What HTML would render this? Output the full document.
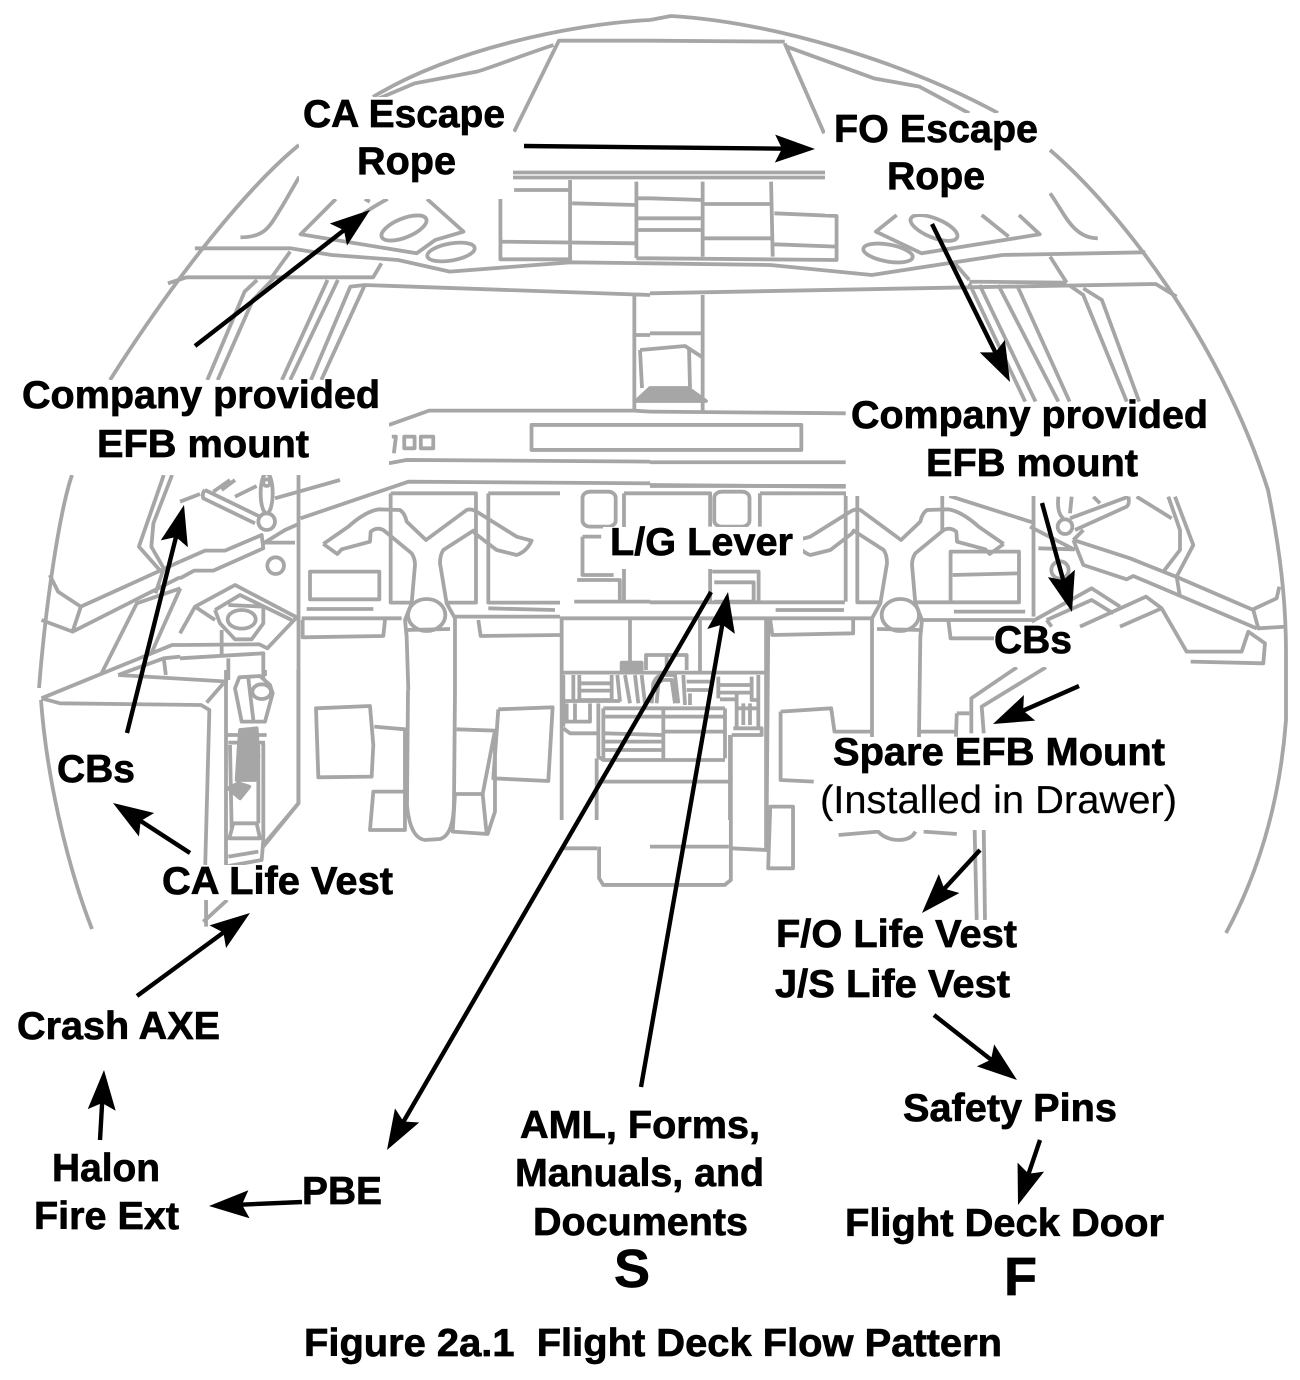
<!DOCTYPE html>
<html><head><meta charset="utf-8"><style>
html,body{margin:0;padding:0;background:#fff}
svg{display:block}
.l path,.l ellipse,.l circle,.l rect{fill:none;stroke:#a6a6a6;stroke-width:3.8;vector-effect:non-scaling-stroke;stroke-linejoin:round}
.l .f{fill:#a6a6a6}
.a line{stroke:#000;stroke-width:4.4;marker-end:url(#h)}
text{font-family:"Liberation Sans",Arial,sans-serif;font-weight:700;font-size:39px;fill:#000;stroke:#000;stroke-width:.7}
text.r{font-weight:400;stroke-width:.2}
</style></head><body>
<svg width="1300" height="1380" viewBox="0 0 1300 1380" xmlns="http://www.w3.org/2000/svg">
<defs><marker id="h" markerUnits="userSpaceOnUse" markerWidth="50" markerHeight="36" refX="40" refY="16" orient="auto"><path d="M0,2 L40,16 L0,30 L7,16Z" fill="#000"/></marker></defs>
<g class="l">
<path d="M650,20 C570,24 450,50 373,97 M299,145 C250,185 180,270 110,380 M72,475 C60,510 46,600 39,688 M41,700 C46,770 65,860 92,929"/>
<path d="M650,20 L671,16 C770,22 900,60 998,113 M1050,150 C1120,210 1220,340 1268,490 C1280,550 1286,600 1286,653 L1286,720 C1280,800 1260,870 1226,933"/>
</g>
<g class="l" transform="scale(.4146,.3333)">
<path d="M1240,395 L1348,122 L1568,122 M1335,135 C1250,170 1180,205 1150,215 L1000,250 L905,300"/>
<path d="M722,530 L680,620 C650,680 640,712 580,712 M810,597 L725,703 L1005,760 L1050,720 L1118,695 L1030,597 M880,597 L892,605 M935,597 Q900,620 878,640"/>
<path d="M470,745 L700,745 L800,765 L960,780 L1085,815 L1375,787 L1568,790 M405,850 L450,832 L900,832 L920,790 M700,755 L655,832"/>
<path d="M620,840 L590,875 L500,1140 M660,835 L610,900 L525,1140 M790,840 L680,1140 M815,840 L700,1140 M880,855 L845,860 L750,1140 M880,855 L775,1140 M878,855 L1568,885"/>
<path d="M1240,570 L1375,570 M1375,540 L1375,790 M1207,597 L1207,778 L1375,778 M1207,725 L1535,730 M1380,610 L1535,615 M1535,545 L1535,775 M1535,595 L1568,595 M1535,655 L1568,655 M1535,690 L1568,690 M1535,775 L1568,775"/>
<path d="M938,1275 L1035,1232 L1530,1232 L1568,1235 M938,1390 L980,1380 L1568,1385 M1568,1275 L1282,1275 L1282,1350 L1568,1350 M1530,885 L1530,1232 M1530,1005 L1568,1005"/>
<path d="M945,1310 L955,1310 L950,1360 M975,1310 L1000,1310 L1000,1345 L975,1345Z M1015,1310 L1045,1310 L1045,1345 L1015,1345Z"/>
</g>
<g class="l" transform="translate(650,0) scale(.4146,.3333)">
<path d="M0,122 L325,125 M330,140 L540,235 L650,260 L770,340 M325,130 L420,400"/>
<path d="M0,595 L127,600 M0,655 L127,655 M0,690 L127,690 M127,545 L127,770 M130,612 L295,612 M130,715 L295,715 M292,545 L296,770 M300,640 L450,648 L450,780 L0,775 M300,733 L450,740"/>
<path d="M0,790 L290,795 L535,825 L850,765 L1195,757 M595,645 L545,695 L655,760 L940,703 L890,645 M800,645 L865,710 M965,580 C1000,640 1020,715 1080,715"/>
<path d="M0,880 L770,862 L1220,852 L1270,890 M770,845 L1005,848 M965,770 L1005,848 M1010,855 L1045,885 L1150,1205 M1045,865 L1090,900 L1180,1205 M770,850 L905,1205 M795,855 L930,1205 M840,855 L985,1205 M885,855 L1012,1205 M735,790 L770,840"/>
<path d="M127,885 L127,1235 M0,1000 L127,1000 M0,1235 L472,1240 M0,1275 L365,1275 L365,1350 L0,1350 M0,1387 L472,1387 M0,1458 L472,1458"/>
</g>
<g class="l">
<path d="M513,172.500 L825,172.500 M513,177.500 L825,177.500"/>
<ellipse cx="404" cy="228" rx="24" ry="9.500" transform="rotate(-22 404 228)"/>
<ellipse cx="451" cy="252" rx="24" ry="8.500" transform="rotate(-10 451 252)"/>
<ellipse cx="934" cy="228" rx="25" ry="9.500" transform="rotate(22 934 228)"/>
<ellipse cx="888" cy="253" rx="25" ry="8.500" transform="rotate(10 888 253)"/>
<path d="M640,350 L685,346 L702,357 M640,350 L642,388 M689,347 L690,388"/>
<path class="f" d="M636,401 L650,388 L688,388 L706,401Z"/>
<path d="M408,690 L407,805 Q410,838 425,840 L440,839 Q454,835 454,800 L455,690"/>
</g>
<g class="l" transform="translate(0,470) scale(.4146,.3333)">
<path d="M415,15 L370,160 L365,230 L395,295 L375,370 M395,15 L335,230 L385,300"/>
<path d="M720,15 L720,1000 L635,1130 M725,145 L985,35 L1568,40"/>
<path d="M195,410 L434,275 M175,485 L434,322 M195,410 L175,485 L100,450 M120,315 L140,365 L195,410"/>
<path d="M435,355 L330,400 L245,610 M435,355 L365,550"/>
<path d="M100,685 L415,525 L435,525 M285,615 L395,565 L435,560 M285,615 L550,635 M395,565 L400,615"/>
<path d="M100,685 L145,700 L485,705 L505,720 L495,1185 M490,1355 L500,1345 L548,1290 M497,1290 L497,1370"/>
<path d="M1350,445 L1568,445"/>
<rect x="1405" y="65" rx="18" ry="18" width="80" height="105"/>
<path d="M1505,70 L1568,70 M1505,70 L1505,395 M1405,200 L1450,200 M1405,200 L1405,315 L1480,315 M1392,330 L1495,330 L1495,395 L1392,395 M1385,395 L1568,395"/>
<path d="M1352,1135 L1440,1135 M1445,1130 L1445,1225 L1455,1245 L1568,1245"/>
</g>
<!-- captain side mount, true 3x -->
<g class="l" transform="translate(180,480) scale(.3333)">
<path d="M75,30 Q65,40 70,55 L225,130 M75,30 L240,110 M0,65 L60,42 M285,55 L480,0 M165,50 L230,18 M100,35 L150,0 M125,30 L165,0"/>
<circle cx="260" cy="125" r="25"/><ellipse cx="260" cy="40" rx="18" ry="60"/><circle cx="260" cy="8" r="10"/>
<path d="M250,190 L315,150 L360,130"/>
<path d="M0,245 L75,212 L135,212 L245,165 L250,205 L100,272 L42,272 L0,295 M250,188 L345,188"/>
<circle cx="287" cy="257" r="25"/>
<path d="M0,460 L45,380 L165,315 L350,412 L262,505 L238,493 L0,495 M45,380 L105,420 M105,390 L180,345 L335,420 M105,390 L120,430 L165,478 L215,478 L250,430 L250,380 L145,375"/>
<ellipse cx="185" cy="418" rx="42" ry="28"/>
<path d="M125,450 L125,525 M0,535 L250,520 L250,600 M145,535 L145,600"/>
</g>
<!-- handle and spring -->
<g class="l" transform="translate(190,670) scale(.3333)">
<path d="M108,0 L108,590 M50,98 L100,40 M148,22 L210,18 L240,45 L248,70 L225,155 L155,155 L135,55Z M175,25 L190,150 M225,0 L225,18"/>
<ellipse cx="215" cy="65" rx="28" ry="22"/>
<path d="M325,0 L325,400 L220,525"/>
<path class="f" d="M150,180 L200,175 L205,260 L195,330 L140,330 L145,250Z M115,355 L145,340 L178,350 L150,385Z"/>
<path d="M110,195 L230,195 M115,218 L225,218 M120,225 L125,480 M205,225 L205,460 M220,220 L220,510 L215,570 L105,590 M130,460 L200,460 L210,505 L118,505 L130,460 M115,560 L205,545"/>
<path d="M378,115 L540,108 L550,225 L545,320 L385,322Z M553,170 L645,178 L645,365 L550,365 L540,480 L645,480 L645,365"/>
</g>
<!-- FO-side seat blocks -->
<g class="l" transform="translate(300,680) scale(.3333)">
<path d="M470,148 L585,152 L548,342 L460,342 M465,342 L458,455 L563,462 L585,395 L585,150 M595,88 L758,82 L745,303 L580,295 L595,88 M548,342 L560,462"/>
</g>
<!-- left yoke & panel boxes -->
<g class="l" transform="translate(300,490) scale(.3333)">
<path d="M70,162 L145,110 Q195,65 235,58 L300,60 Q315,70 320,95 L378,150 L500,60 Q515,55 530,65 L650,140 L695,152 Q680,185 650,195 L590,180 L525,130 L520,122 L430,180 Q420,195 420,220 L440,340 L465,385 L465,600 M70,162 L112,192 L125,178 L210,155 L212,125 Q230,110 250,120 L335,190 Q345,205 345,225 L335,340 L315,390 L320,440 L325,600"/>
<ellipse cx="380" cy="375" rx="56" ry="48"/>
<path d="M320,420 L450,417 M272,10 L528,10 L528,338 L440,338 M272,10 L272,338 L330,338 M565,10 L780,10 M565,10 L565,338 L780,338 M5,385 L305,385 M465,380 L780,380"/>
<path d="M30,245 L238,245 L238,328 L30,328Z M20,357 L220,357 M565,355 L765,360 M8,390 L8,442 L250,438 L255,390 M535,390 L542,438 L780,435"/>
</g>
<!-- right yoke, mirrored -->
<g class="l" transform="translate(1027,490) scale(-.3333,.3333)">
<path d="M70,162 L145,110 Q195,65 235,58 L300,60 Q315,70 320,95 L378,150 L500,60 Q515,55 530,65 L650,140 L695,152 Q680,185 650,195 L590,180 L525,130 L520,122 L430,180 Q420,195 420,220 L440,340 L465,385 L465,810 M70,162 L112,192 L125,178 L210,155 L212,125 Q230,110 250,120 L335,190 Q345,205 345,225 L335,340 L315,390 L320,440 L325,810"/>
<ellipse cx="380" cy="375" rx="56" ry="48"/>
<path d="M320,420 L450,417"/>
</g>
<g class="l" transform="translate(650,470) scale(.4146,.3333)">
<path d="M0,45 L472,50 M0,70 L145,70 L145,170 M265,70 L472,70 L472,395 M265,70 L265,170 M145,295 L145,400 M150,305 L262,305 L262,400 M155,337 L250,337 L250,395 L155,395 M0,397 L470,397 M0,445 L535,445 M303,420 L468,420 M290,450 L295,495 L490,490 L490,450"/>
<rect x="155" y="65" rx="18" ry="18" width="85" height="105"/>
<path d="M500,78 L500,397 L555,397 M705,78 L705,185 M640,397 L890,397 L890,245 L725,245 L725,397 M730,315 L890,310 M733,425 L905,425 M655,450 L925,450 M720,455 L725,505 L830,505"/>
<path d="M722,78 L925,158 M925,78 L925,440"/>
<path d="M885,592 L775,685 L775,790 M955,592 L800,710 L805,790 M740,730 L770,730 M740,730 L738,800"/>
<path d="M315,725 L437,715 L445,785 L535,785 M650,785 L735,785 M315,725 L315,930 L395,935 M290,1010 L345,1010 L345,1195 L285,1195Z M195,800 L195,1230 L180,1245 L0,1245 M0,1130 L190,1130 M195,1135 L280,1140 L280,450"/>
<path d="M455,1095 L550,1085 Q570,1110 600,1110 Q630,1110 640,1085 M660,1085 L740,1092 M783,1080 L788,1350 M805,1080 L808,1350"/>
</g>
<!-- FO side mount, true 3x -->
<g class="l" transform="translate(1030,490) scale(.3333)">
<path d="M0,110 L135,180 M25,175 L130,178 M85,20 Q80,70 100,85 M125,20 L120,70 M120,85 L295,20 M135,120 L290,50 Q300,40 295,20 M190,20 L210,40 M320,20 L425,85 M415,20 L450,120 L450,180 L400,245 M435,20 L490,165 L440,260 L450,320 M130,150 L160,120"/>
<circle cx="105" cy="110" r="22"/><circle cx="90" cy="240" r="26"/>
<path d="M130,150 L300,205 L450,265 L670,360 L685,415 L770,410 M130,150 L160,225 L290,268 L310,258 L680,415 M665,360 L740,325 L748,290"/>
<path d="M5,395 L185,295 L270,350 M50,390 L185,330 L250,370 M50,390 L65,410 M150,410 L348,320 L395,355 M270,410 L395,355 L470,485 L635,485 L655,425 L705,460 L700,520 L482,515"/>
</g>
<g class="l" transform="translate(540,620) scale(.3333)">
<path d="M65,0 L65,600 M685,0 L680,600 M70,158 L680,158 M270,0 L270,130 M318,150 L318,105 L440,105 L440,150 M380,105 L380,150 M480,0 L480,155"/>
<path class="f" d="M245,128 L305,128 L305,153 L245,153Z"/>
<path d="M100,165 L100,240 M70,165 L70,320 M118,165 L118,240 L215,240 L215,165 M118,190 L215,190 M118,212 L215,212 M232,165 L240,245 M70,243 L240,243 M80,250 L80,300 M105,250 L105,300 M150,250 L150,305 L70,305 M70,325 L90,340 L170,340 M175,250 L175,410 L190,420 L555,420 M190,265 L555,265 M190,290 L555,290 M370,270 L370,415 M195,340 L365,345 M195,365 L365,365 M195,390 L365,390 M375,335 L555,335 M555,265 L555,415 M190,265 L190,415"/>
<path d="M255,165 L270,250 M285,165 L295,250 M305,165 L315,250 M335,250 L340,190 Q350,165 370,165 L405,165 L415,250 M350,250 L355,190 Q365,178 380,180 L395,180 L405,250 M430,165 L435,255 M440,185 L510,185 M440,210 L510,210 M450,220 L450,255 M535,170 L535,235 M535,195 L635,195 M535,218 L630,218 M540,238 L590,238 M635,170 L635,240 L655,240 M655,165 L655,320 M590,220 L590,320 M610,250 L610,315 M630,250 L630,315 M590,265 L650,265 M575,345 L665,345 L665,325 L580,325 M570,345 L570,600 M170,415 L170,600 M175,485 L565,485"/>
</g>
<!-- label masks -->
<g fill="#fff">
<rect x="299" y="97" width="214" height="102"/>
<rect x="825" y="113" width="224" height="101"/>
<rect x="20" y="380" width="369" height="95"/>
<rect x="846" y="402" width="369" height="94"/>
<rect x="603" y="527" width="200" height="42"/>
<rect x="994" y="628" width="121" height="39"/>
<rect x="814" y="737" width="366" height="93"/>
<rect x="160" y="865" width="235" height="35"/>
<rect x="770" y="920" width="250" height="80"/>
</g>
<g class="a">
<line x1="524" y1="146" x2="815" y2="149" style="stroke-dasharray:283 900"/>
<line x1="195" y1="346" x2="370" y2="210" style="stroke-dasharray:213 900"/>
<line x1="932" y1="224" x2="1010" y2="382" style="stroke-dasharray:168 900"/>
<line x1="127" y1="733" x2="184" y2="505" style="stroke-dasharray:227 900"/>
<line x1="1042" y1="503" x2="1072" y2="612" style="stroke-dasharray:105 900"/>
<line x1="1079" y1="686" x2="993" y2="724" style="stroke-dasharray:86 900"/>
<line x1="980" y1="850" x2="922" y2="913" style="stroke-dasharray:77 900"/>
<line x1="190" y1="853" x2="113" y2="803" style="stroke-dasharray:84 900"/>
<line x1="137" y1="996" x2="250" y2="913" style="stroke-dasharray:132 900"/>
<line x1="100" y1="1140" x2="104" y2="1070" style="stroke-dasharray:62 900"/>
<line x1="302" y1="1202" x2="209" y2="1206" style="stroke-dasharray:85 900"/>
<line x1="711" y1="592" x2="387" y2="1150" style="stroke-dasharray:637 900"/>
<line x1="641" y1="1087" x2="728" y2="592" style="stroke-dasharray:494 900"/>
<line x1="934" y1="1015" x2="1017" y2="1080" style="stroke-dasharray:97 900"/>
<line x1="1040" y1="1140" x2="1018" y2="1205" style="stroke-dasharray:60 900"/>
</g>
<g>
<text x="303" y="127" textLength="202" lengthAdjust="spacingAndGlyphs">CA Escape</text>
<text x="357" y="174" textLength="99" lengthAdjust="spacingAndGlyphs">Rope</text>
<text x="834" y="142" textLength="204" lengthAdjust="spacingAndGlyphs">FO Escape</text>
<text x="887" y="189" textLength="98" lengthAdjust="spacingAndGlyphs">Rope</text>
<text x="22" y="408" textLength="358" lengthAdjust="spacingAndGlyphs">Company provided</text>
<text x="97" y="457" textLength="212" lengthAdjust="spacingAndGlyphs">EFB mount</text>
<text x="851" y="428" textLength="357" lengthAdjust="spacingAndGlyphs">Company provided</text>
<text x="926" y="476" textLength="212" lengthAdjust="spacingAndGlyphs">EFB mount</text>
<text x="610" y="555" textLength="183" lengthAdjust="spacingAndGlyphs">L/G Lever</text>
<text x="994" y="653" textLength="78" lengthAdjust="spacingAndGlyphs">CBs</text>
<text x="833" y="765" textLength="332" lengthAdjust="spacingAndGlyphs">Spare EFB Mount</text>
<text class="r" x="820" y="813" textLength="357" lengthAdjust="spacingAndGlyphs">(Installed in Drawer)</text>
<text x="57" y="782" textLength="78" lengthAdjust="spacingAndGlyphs">CBs</text>
<text x="162" y="894" textLength="231" lengthAdjust="spacingAndGlyphs">CA Life Vest</text>
<text x="776" y="947" textLength="241" lengthAdjust="spacingAndGlyphs">F/O Life Vest</text>
<text x="775" y="997" textLength="235" lengthAdjust="spacingAndGlyphs">J/S Life Vest</text>
<text x="17" y="1039" textLength="203" lengthAdjust="spacingAndGlyphs">Crash AXE</text>
<text x="52" y="1181" textLength="108" lengthAdjust="spacingAndGlyphs">Halon</text>
<text x="34" y="1229" textLength="145" lengthAdjust="spacingAndGlyphs">Fire Ext</text>
<text x="302" y="1204" textLength="80" lengthAdjust="spacingAndGlyphs">PBE</text>
<text x="520" y="1138" textLength="240" lengthAdjust="spacingAndGlyphs">AML, Forms,</text>
<text x="515" y="1186" textLength="249" lengthAdjust="spacingAndGlyphs">Manuals, and</text>
<text x="533" y="1235" textLength="215" lengthAdjust="spacingAndGlyphs">Documents</text>
<text x="614" y="1287" style="font-size:54px">S</text>
<text x="1004" y="1295" style="font-size:54px">F</text>
<text x="903" y="1121" textLength="214" lengthAdjust="spacingAndGlyphs">Safety Pins</text>
<text x="845" y="1236" textLength="319" lengthAdjust="spacingAndGlyphs">Flight Deck Door</text>
<text x="304" y="1356" textLength="698" lengthAdjust="spacingAndGlyphs" xml:space="preserve" style="white-space:pre">Figure 2a.1  Flight Deck Flow Pattern</text>
</g>
</svg>
</body></html>
